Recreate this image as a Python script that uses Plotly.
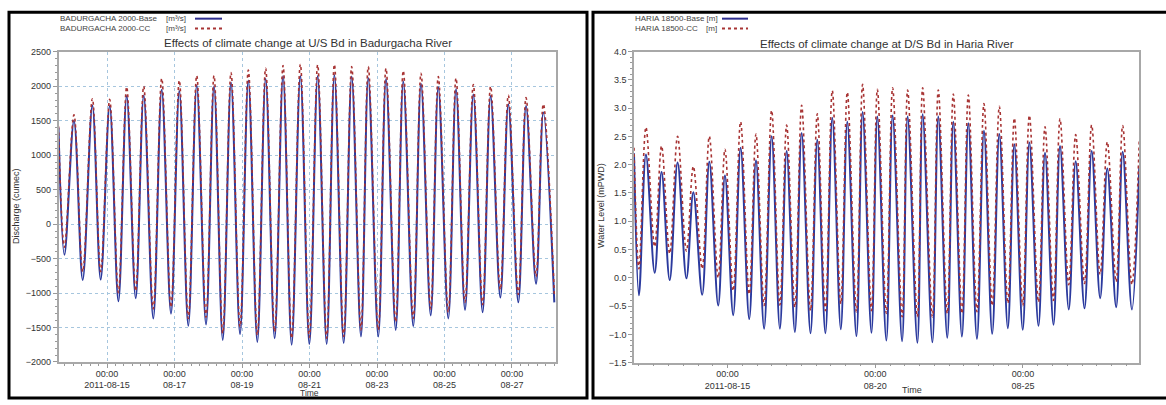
import pandas as pd
import plotly.graph_objects as go

# ---------------- data (hours relative to 2011-08-15 00:00) ----------------
REF = pd.Timestamp("2011-08-15 00:00")

# Left panel: BADURGACHA 2000 discharge (m3/s)
L_start_t = [-34.5]
L_start_base = [1400]
L_start_cc = [1420]

L_peak_t = [-23.5, -10.4, 1.9, 14.0, 26.1, 38.9, 51.4, 63.8, 76.1, 88.2, 100.5, 112.8, 125.2, 137.5,
            149.8, 161.7, 174.0, 185.8, 198.4, 210.7, 223.3, 235.6, 248.2, 260.5, 272.8, 285.4, 298.0, 310.3]
L_peak_base = [1500, 1720, 1715, 1860, 1865, 1950, 1930, 2010, 2000, 2055, 2085, 2110, 2150, 2150,
               2150, 2165, 2140, 2120, 2105, 2070, 2035, 1985, 1955, 1880, 1860, 1740, 1715, 1620]
L_peak_cc = [1585, 1820, 1810, 1990, 2000, 2115, 2085, 2155, 2155, 2200, 2235, 2260, 2300, 2320,
             2310, 2315, 2285, 2285, 2260, 2225, 2190, 2140, 2120, 2025, 2000, 1870, 1835, 1740]

L_trough_t = [-30.3, -17.3, -4.5, 8.1, 20.4, 32.9, 45.5, 57.8, 70.4, 82.3, 94.6, 106.9, 119.2, 131.3,
              143.9, 156.2, 168.3, 180.6, 192.9, 205.3, 217.8, 230.2, 242.7, 254.6, 267.1, 279.7, 292.5,
              305.1, 318.1]
L_trough_base = [-445, -810, -805, -1120, -1075, -1370, -1300, -1475, -1455, -1680, -1595, -1710, -1655,
                 -1750, -1740, -1740, -1725, -1630, -1630, -1535, -1480, -1325, -1370, -1245, -1280,
                 -1065, -1135, -865, -1135]
L_trough_cc = [-335, -690, -690, -995, -970, -1230, -1205, -1370, -1350, -1585, -1490, -1610, -1560,
               -1655, -1645, -1655, -1630, -1535, -1535, -1420, -1370, -1230, -1280, -1135, -1170,
               -950, -1020, -760, -1020]

# Right panel: HARIA 18500 water level (m)
R_start_t = [-76.0]
R_start_base = [2.20]
R_start_cc = [2.30]
R_end_t = [334.5]
R_end_base = [1.98]
R_end_cc = [2.45]

R_peak_t = [-66.3, -53.6, -40.6, -27.8, -14.8, -2.1, 10.6, 23.1, 35.8, 48.0, 60.2, 72.9, 85.1, 97.3,
            109.7, 121.7, 134.1, 146.3, 158.5, 171.2, 183.4, 195.6, 208.3, 220.8, 233.0, 245.2, 257.9,
            270.1, 282.8, 295.8, 308.5, 321.0]
R_peak_base = [2.18, 1.87, 2.04, 1.51, 2.05, 1.81, 2.30, 2.08, 2.50, 2.24, 2.56, 2.44, 2.83, 2.76,
               2.93, 2.85, 2.87, 2.85, 2.89, 2.85, 2.76, 2.73, 2.60, 2.54, 2.36, 2.39, 2.21, 2.33,
               2.06, 2.24, 1.93, 2.23]
R_peak_cc = [2.66, 2.33, 2.50, 1.97, 2.50, 2.27, 2.76, 2.54, 2.96, 2.70, 3.05, 2.90, 3.31, 3.28,
             3.42, 3.33, 3.36, 3.32, 3.36, 3.32, 3.25, 3.23, 3.08, 3.03, 2.82, 2.87, 2.67, 2.81,
             2.53, 2.70, 2.40, 2.69]

R_trough_t = [-72.0, -59.2, -47.0, -33.4, -20.6, -7.6, 4.6, 17.6, 29.7, 42.5, 54.7, 67.4, 79.5, 92.0,
              104.7, 116.9, 129.0, 141.8, 154.2, 166.4, 178.5, 190.4, 202.6, 215.0, 227.7, 239.8,
              252.6, 264.8, 277.2, 290.0, 302.7, 315.7, 328.5]
R_trough_base = [-0.31, 0.09, -0.04, -0.01, -0.30, -0.49, -0.66, -0.73, -0.90, -0.90, -0.96, -0.98,
                 -0.98, -0.91, -1.03, -0.97, -1.11, -1.12, -1.15, -1.14, -1.06, -1.04, -1.08, -0.99,
                 -0.89, -0.92, -0.85, -0.83, -0.56, -0.54, -0.36, -0.52, -0.56]
R_trough_cc = [0.16, 0.55, 0.43, 0.47, 0.16, 0.00, -0.23, -0.29, -0.49, -0.48, -0.52, -0.58, -0.58,
               -0.46, -0.60, -0.58, -0.63, -0.69, -0.69, -0.69, -0.63, -0.63, -0.60, -0.49, -0.45,
               -0.49, -0.43, -0.40, -0.12, -0.10, 0.06, -0.07, -0.12]

L_ticks = ["2011-08-15", "2011-08-17", "2011-08-19", "2011-08-21", "2011-08-23", "2011-08-25", "2011-08-27"]
L_ticktext = ["00:00<br>2011-08-15", "00:00<br>08-17", "00:00<br>08-19", "00:00<br>08-21",
              "00:00<br>08-23", "00:00<br>08-25", "00:00<br>08-27"]
R_ticks = ["2011-08-15", "2011-08-20", "2011-08-25"]
R_ticktext = ["00:00<br>2011-08-15", "00:00<br>08-20", "00:00<br>08-25"]


def series(parts_t, parts_v):
    t, v = [], []
    for a, b in zip(parts_t, parts_v):
        t += a
        v += b
    order = sorted(range(len(t)), key=lambda i: t[i])
    times = [REF + pd.Timedelta(hours=t[i]) for i in order]
    return times, [v[i] for i in order]


Lx_b, Ly_b = series([L_start_t, L_peak_t, L_trough_t], [L_start_base, L_peak_base, L_trough_base])
Lx_c, Ly_c = series([L_start_t, L_peak_t, L_trough_t], [L_start_cc, L_peak_cc, L_trough_cc])
Rx_b, Ry_b = series([R_start_t, R_peak_t, R_trough_t, R_end_t],
                    [R_start_base, R_peak_base, R_trough_base, R_end_base])
Rx_c, Ry_c = series([R_start_t, R_peak_t, R_trough_t, R_end_t],
                    [R_start_cc, R_peak_cc, R_trough_cc, R_end_cc])

BLUE = "#2b3a9e"
RED = "#a83434"
GRID = "#a6c6de"
W, H = 1166, 405
FONT = "Liberation Sans, Arial, sans-serif"

fig = go.Figure()
fig.add_trace(go.Scatter(x=Lx_b, y=Ly_b, mode="lines", line=dict(color=BLUE, width=2, shape="spline"),
                         xaxis="x", yaxis="y", showlegend=False))
fig.add_trace(go.Scatter(x=Lx_c, y=Ly_c, mode="lines",
                         line=dict(color=RED, width=1.6, dash="dot", shape="spline"),
                         xaxis="x", yaxis="y", showlegend=False))
fig.add_trace(go.Scatter(x=Rx_b, y=Ry_b, mode="lines", line=dict(color=BLUE, width=2, shape="spline"),
                         xaxis="x2", yaxis="y2", showlegend=False))
fig.add_trace(go.Scatter(x=Rx_c, y=Ry_c, mode="lines",
                         line=dict(color=RED, width=1.6, dash="dot", shape="spline"),
                         xaxis="x2", yaxis="y2", showlegend=False))


def px(x):
    return x / W


def py(y):
    return 1 - y / H


tickfont = dict(family=FONT, size=9, color="#333")
axis_common = dict(showline=True, linecolor="#a8a8a8", linewidth=1.5, mirror=True, ticks="outside",
                   ticklen=4, tickcolor="#999", tickfont=tickfont, zeroline=False)

fig.update_layout(
    width=W, height=H, margin=dict(l=0, r=0, t=0, b=0),
    paper_bgcolor="white", plot_bgcolor="white",
    font=dict(family=FONT, color="#333"),
    xaxis=dict(domain=[px(58.5), px(556)], anchor="y", type="date",
               range=[REF + pd.Timedelta(hours=-34.5), REF + pd.Timedelta(hours=319.3)],
               tickmode="array", tickvals=L_ticks, ticktext=L_ticktext,
               showgrid=True, gridcolor=GRID, griddash="dot", gridwidth=1,
               minor=dict(tickmode="linear", tick0="2011-08-15", dtick=6 * 3600 * 1000,
                          ticks="outside", ticklen=2, tickcolor="#999", showgrid=False),
               **axis_common),
    yaxis=dict(domain=[py(366), py(48)], anchor="x", range=[-2000, 2500], dtick=500, tick0=0,
               showgrid=True, gridcolor=GRID, griddash="dot", gridwidth=1,
               minor=dict(dtick=100, ticks="outside", ticklen=2, tickcolor="#999", showgrid=False),
               **axis_common),
    xaxis2=dict(domain=[px(634), px(1139.3)], anchor="y2", type="date",
                range=[REF + pd.Timedelta(hours=-76.0), REF + pd.Timedelta(hours=334.5)],
                tickmode="array", tickvals=R_ticks, ticktext=R_ticktext, showgrid=False,
                minor=dict(tickmode="linear", tick0="2011-08-15", dtick=12 * 3600 * 1000,
                           ticks="outside", ticklen=2, tickcolor="#999", showgrid=False),
                **axis_common),
    yaxis2=dict(domain=[py(366.7), py(47.7)], anchor="x2", range=[-1.5, 4.0], dtick=0.5, tick0=0,
                tickformat=".1f", showgrid=False,
                minor=dict(dtick=0.1, ticks="outside", ticklen=2, tickcolor="#999", showgrid=False),
                **axis_common),
)
fig.update_xaxes(ticklabelstandoff=-2)

ann = []
def text(x, y, s, size=8, xanchor="left", angle=0, color="#444"):
    ann.append(dict(x=px(x), y=py(y), xref="paper", yref="paper", text=s, showarrow=False,
                    xanchor=xanchor, yanchor="middle", textangle=angle,
                    font=dict(size=size, color=color, family=FONT)))

# titles
text(307.5, 39, "Effects of climate change at U/S Bd in Badurgacha River", size=11.5, xanchor="center", color="#333")
text(886.5, 40, "Effects of climate change at D/S Bd in Haria River", size=11.5, xanchor="center", color="#333")
# legends
text(58, 14, "BADURGACHA 2000-Base")
text(58, 24, "BADURGACHA 2000-CC")
text(164, 14, "[m³/s]")
text(164, 24, "[m³/s]")
text(633, 14, "HARIA 18500-Base [m]")
text(633, 24, "HARIA 18500-CC")
text(704, 24, "[m]")
# axis titles
text(16, 206, "Discharge (cumec)", size=9, xanchor="center", angle=-90, color="#333")
text(601, 206, "Water Level (mPWD)", size=9, xanchor="center", angle=-90, color="#333")
text(309, 397.5, "Time", size=8.5, xanchor="center", color="#333")
text(912, 395, "Time", size=9, xanchor="center", color="#333")

shapes = []
def seg(x0, y0, x1, y1, color, dash="solid", width=2):
    shapes.append(dict(type="line", xref="paper", yref="paper", x0=px(x0), y0=py(y0), x1=px(x1), y1=py(y1),
                       line=dict(color=color, width=width, dash=dash)))

seg(195, 14, 222, 14, "#2d2d8f")
seg(195, 24, 222, 24, RED, "dot")
seg(722, 14, 748, 14, "#2d2d8f")
seg(722, 24, 748, 24, RED, "dot")

for x0, x1 in [(9, 587), (593, 1175)]:
    shapes.append(dict(type="rect", xref="paper", yref="paper", x0=px(x0), x1=px(x1), y0=py(403), y1=py(7.5),
                       line=dict(color="black", width=3)))

fig.update_layout(annotations=ann, shapes=shapes)
fig.write_html("out.html", config={"displayModeBar": False},
               post_script="document.body.style.margin='0';document.body.style.overflow='hidden';")
